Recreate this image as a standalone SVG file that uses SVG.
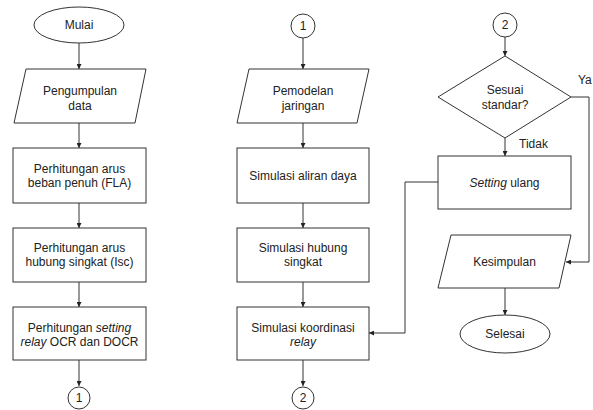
<svg xmlns="http://www.w3.org/2000/svg" width="593" height="410" viewBox="0 0 593 410">
<defs>
<marker id="ah" viewBox="0 0 6 6" refX="6" refY="3" markerWidth="5" markerHeight="5" orient="auto" markerUnits="userSpaceOnUse">
<path d="M0,0 L6,3 L0,6 z" fill="#222"/>
</marker>
<style>
.s{fill:#fff;stroke:#333;stroke-width:1}
.t{font-family:"Liberation Sans",Arial,sans-serif;font-size:12px;fill:#222;text-anchor:middle}
.l{font-family:"Liberation Sans",Arial,sans-serif;font-size:12px;fill:#222}
.c{fill:none;stroke:#333;stroke-width:1;marker-end:url(#ah)}
</style>
</defs>
<rect width="593" height="410" fill="#fff"/>
<g id="connectors">
<path class="c" d="M79,43 V69"/>
<path class="c" d="M79,123 V148"/>
<path class="c" d="M79,203 V228"/>
<path class="c" d="M79,282 V307"/>
<path class="c" d="M79,360 V386"/>
<path class="c" d="M303,38 V69"/>
<path class="c" d="M303,123 V148"/>
<path class="c" d="M303,203 V228"/>
<path class="c" d="M303,282 V307"/>
<path class="c" d="M303,360 V386"/>
<path class="c" d="M505,37 V56"/>
<path class="c" d="M505,138 V156"/>
<path class="c" d="M571,97 H589 V262 H566"/>
<path class="c" d="M438,182 H405 V333 H369"/>
<path class="c" d="M505,288 V315"/>
</g>
<g id="mulai"><ellipse class="s" cx="79" cy="25" rx="45" ry="18"/><text class="t" x="79" y="29">Mulai</text></g>
<g id="pengumpulan"><polygon class="s" points="26,69 146,69 135,123 14,123"/><text class="t" x="80" y="95">Pengumpulan</text><text class="t" x="80" y="110">data</text></g>
<g id="fla"><rect class="s" x="13" y="148" width="133" height="55"/><text class="t" x="79.5" y="173">Perhitungan arus</text><text class="t" x="79.5" y="187">beban penuh (FLA)</text></g>
<g id="isc"><rect class="s" x="13" y="228" width="133" height="54"/><text class="t" x="79.5" y="252">Perhitungan arus</text><text class="t" x="79.5" y="266">hubung singkat (Isc)</text></g>
<g id="setting"><rect class="s" x="13" y="307" width="133" height="53"/><text class="t" x="79.5" y="332">Perhitungan <tspan font-style="italic">setting</tspan></text><text class="t" x="79.5" y="346"><tspan font-style="italic">relay</tspan> OCR dan DOCR</text></g>
<g id="c1a"><circle class="s" cx="79" cy="398" r="11"/><text class="t" x="79" y="402">1</text></g>
<g id="c1b"><circle class="s" cx="303" cy="26" r="12"/><text class="t" x="303" y="30">1</text></g>
<g id="pemodelan"><polygon class="s" points="249,69 369,69 357,123 237,123"/><text class="t" x="303" y="95">Pemodelan</text><text class="t" x="303" y="110">jaringan</text></g>
<g id="aliran"><rect class="s" x="237" y="148" width="132" height="55"/><text class="t" x="303" y="180">Simulasi aliran daya</text></g>
<g id="hubung"><rect class="s" x="237" y="228" width="132" height="54"/><text class="t" x="303" y="252">Simulasi hubung</text><text class="t" x="303" y="266">singkat</text></g>
<g id="koordinasi"><rect class="s" x="237" y="307" width="132" height="53"/><text class="t" x="303" y="332">Simulasi koordinasi</text><text class="t" x="303" y="346" font-style="italic">relay</text></g>
<g id="c2a"><circle class="s" cx="303" cy="398" r="11"/><text class="t" x="303" y="402">2</text></g>
<g id="c2b"><circle class="s" cx="505" cy="25" r="12"/><text class="t" x="505" y="29">2</text></g>
<g id="sesuai"><polygon class="s" points="505,56 571,97 505,138 438,97"/><text class="t" x="505" y="94">Sesuai</text><text class="t" x="505" y="109">standar?</text></g>
<g id="ulang"><rect class="s" x="438" y="156" width="133" height="53"/><text class="t" x="504.5" y="187"><tspan font-style="italic">Setting</tspan> ulang</text></g>
<g id="kesimpulan"><polygon class="s" points="451,235 571,235 559,288 438,288"/><text class="t" x="504.5" y="266">Kesimpulan</text></g>
<g id="selesai"><ellipse class="s" cx="505" cy="334" rx="45" ry="19"/><text class="t" x="505" y="338">Selesai</text></g>
<g id="labels"><text class="l" x="578" y="84">Ya</text><text class="l" x="519" y="148">Tidak</text></g>
</svg>
